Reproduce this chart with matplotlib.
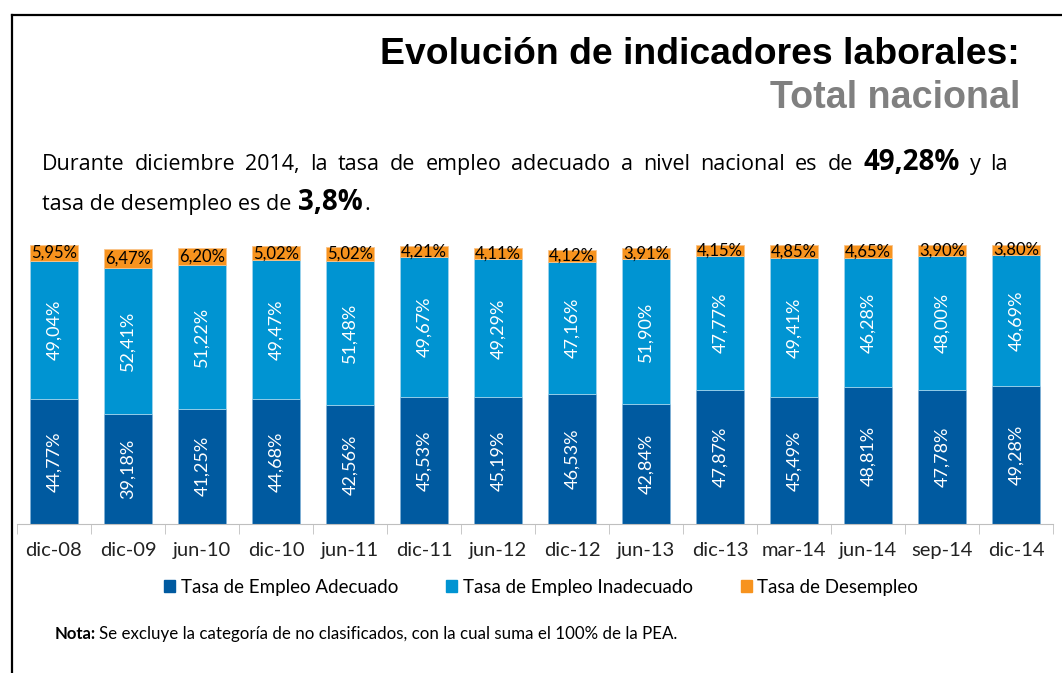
import matplotlib.pyplot as plt
import numpy as np
from matplotlib import font_manager
from matplotlib.lines import Line2D
from matplotlib.patches import Rectangle

periodos = ["dic-08", "dic-09", "jun-10", "dic-10", "jun-11", "dic-11", "jun-12",
            "dic-12", "jun-13", "dic-13", "mar-14", "jun-14", "sep-14", "dic-14"]
adecuado = [44.77, 39.18, 41.25, 44.68, 42.56, 45.53, 45.19, 46.53, 42.84, 47.87, 45.49, 48.81, 47.78, 49.28]
inadecuado = [49.04, 52.41, 51.22, 49.47, 51.48, 49.67, 49.29, 47.16, 51.90, 47.77, 49.41, 46.28, 48.00, 46.69]
desempleo = [5.95, 6.47, 6.20, 5.02, 5.02, 4.21, 4.11, 4.12, 3.91, 4.15, 4.85, 4.65, 3.90, 3.80]
series = ["Tasa de Empleo Adecuado", "Tasa de Empleo Inadecuado", "Tasa de Desempleo"]

c_adec = "#005AA0"
c_inad = "#0094D2"
c_des = "#F7931E"
body_font = ["Lato", "DejaVu Sans"]
para_font = ["Open Sans", "DejaVu Sans"]

installed = {f.name for f in font_manager.fontManager.ttflist}
title_font = "Liberation Sans Narrow" if "Liberation Sans Narrow" in installed else "Liberation Sans"

W, H = 1062, 673


def pct(v):
    return f"{v:.2f}".replace(".", ",") + "%"


fig = plt.figure(figsize=(W / 100, H / 100), dpi=100)
renderer = fig.canvas.get_renderer()
ax = fig.add_axes([17 / W, 149 / H, 1036 / W, 280 / H])

x = np.arange(len(periodos))
w = 0.65
adec = np.array(adecuado)
inad = np.array(inadecuado)
des = np.array(desempleo)
ax.bar(x, adec, w, color=c_adec, edgecolor="#7FB0D6", linewidth=0.6, label=series[0])
ax.bar(x, inad, w, bottom=adec, color=c_inad, edgecolor="#9FD3EC", linewidth=0.6, label=series[1])
ax.bar(x, des, w, bottom=adec + inad, color=c_des, edgecolor="#F9C48A", linewidth=0.6, label=series[2])

for i in range(len(periodos)):
    ax.text(x[i], adec[i] / 2, pct(adec[i]), rotation=90, ha="center", va="center",
            color="white", fontsize=13, family=body_font)
    ax.text(x[i], adec[i] + inad[i] / 2, pct(inad[i]), rotation=90, ha="center", va="center",
            color="white", fontsize=13, family=body_font)
    ax.text(x[i], adec[i] + inad[i] + des[i] / 2, pct(des[i]), ha="center", va="center",
            color="black", fontsize=12, family=body_font)

ax.set_xlim(-0.5, len(periodos) - 0.5)
ax.set_ylim(0, 100)
for s in ["top", "right", "left"]:
    ax.spines[s].set_visible(False)
ax.spines["bottom"].set_color("#BFBFBF")
ax.set_yticks([])
ax.set_xticks(x)
ax.set_xticklabels(periodos, fontsize=14.5, family=body_font, color="#222222")
ax.tick_params(axis="x", which="major", length=0, pad=13)
ax.set_xticks(np.arange(-0.5, len(periodos)), minor=True)
ax.tick_params(axis="x", which="minor", length=7, color="#BFBFBF", direction="out")

handles = [Rectangle((0, 0), 1, 1, color=c) for c in (c_adec, c_inad, c_des)]
fig.legend(handles, series, loc="center", bbox_to_anchor=(541 / W, 1 - 587 / H),
           ncol=3, frameon=False, handlelength=0.6, handleheight=0.6, handletextpad=0.3,
           columnspacing=2.55, prop={"family": body_font, "size": 13.5})

# marco de la lamina
fig.add_artist(Line2D([12 / W, 1], [1 - 15 / H, 1 - 15 / H], color="black", lw=1.6))
fig.add_artist(Line2D([12 / W, 12 / W], [0, 1 - 15 / H], color="black", lw=1.6))


def fit_text(xr, y, s, width, size, **kw):
    t = fig.text(xr, y, s, ha="right", va="center", fontsize=size, **kw)
    wpx = t.get_window_extent(renderer).width
    t.set_fontsize(size * width / wpx)
    return t


fit_text(1020 / W, 1 - 55 / H, "Evolución de indicadores laborales:", 640, 28,
         fontweight="bold", family=title_font, color="black")
fit_text(1020 / W, 1 - 98 / H, "Total nacional", 250, 26,
         fontweight="bold", family=title_font, color="#808080")

# parrafo justificado
linea1 = [(w_, False) for w_ in "Durante diciembre 2014, la tasa de empleo adecuado a nivel nacional es de".split()]
linea1 += [("49,28%", True), ("y", False), ("la", False)]
x0, x1 = 42, 1008
arts = []
for word, bold in linea1:
    t = fig.text(0, 1 - 170 / H, word, ha="left", va="baseline", family=para_font,
                 fontsize=20 if bold else 15.5, fontweight="bold" if bold else "normal")
    arts.append(t)
widths = [t.get_window_extent(renderer).width for t in arts]
gap = (x1 - x0 - sum(widths)) / (len(arts) - 1)
pos = x0
for t, wd in zip(arts, widths):
    t.set_x(pos / W)
    pos += wd + gap

pos = 42
for word, bold, after in [("tasa de desempleo es de", False, 7), ("3,8%", True, 1), (".", False, 0)]:
    t = fig.text(pos / W, 1 - 210 / H, word, ha="left", va="baseline", family=para_font,
                 fontsize=20 if bold else 15.5, fontweight="bold" if bold else "normal")
    pos += t.get_window_extent(renderer).width + after

fig.text(55 / W, 1 - 634 / H, "Nota:", ha="left", va="center", fontsize=12,
         fontweight="bold", family=body_font)
fig.text(99 / W, 1 - 634 / H,
         "Se excluye la categoría de no clasificados, con la cual suma el 100% de la PEA.",
         ha="left", va="center", fontsize=12.2, family=body_font)

fig.savefig("out.png", dpi=100)
